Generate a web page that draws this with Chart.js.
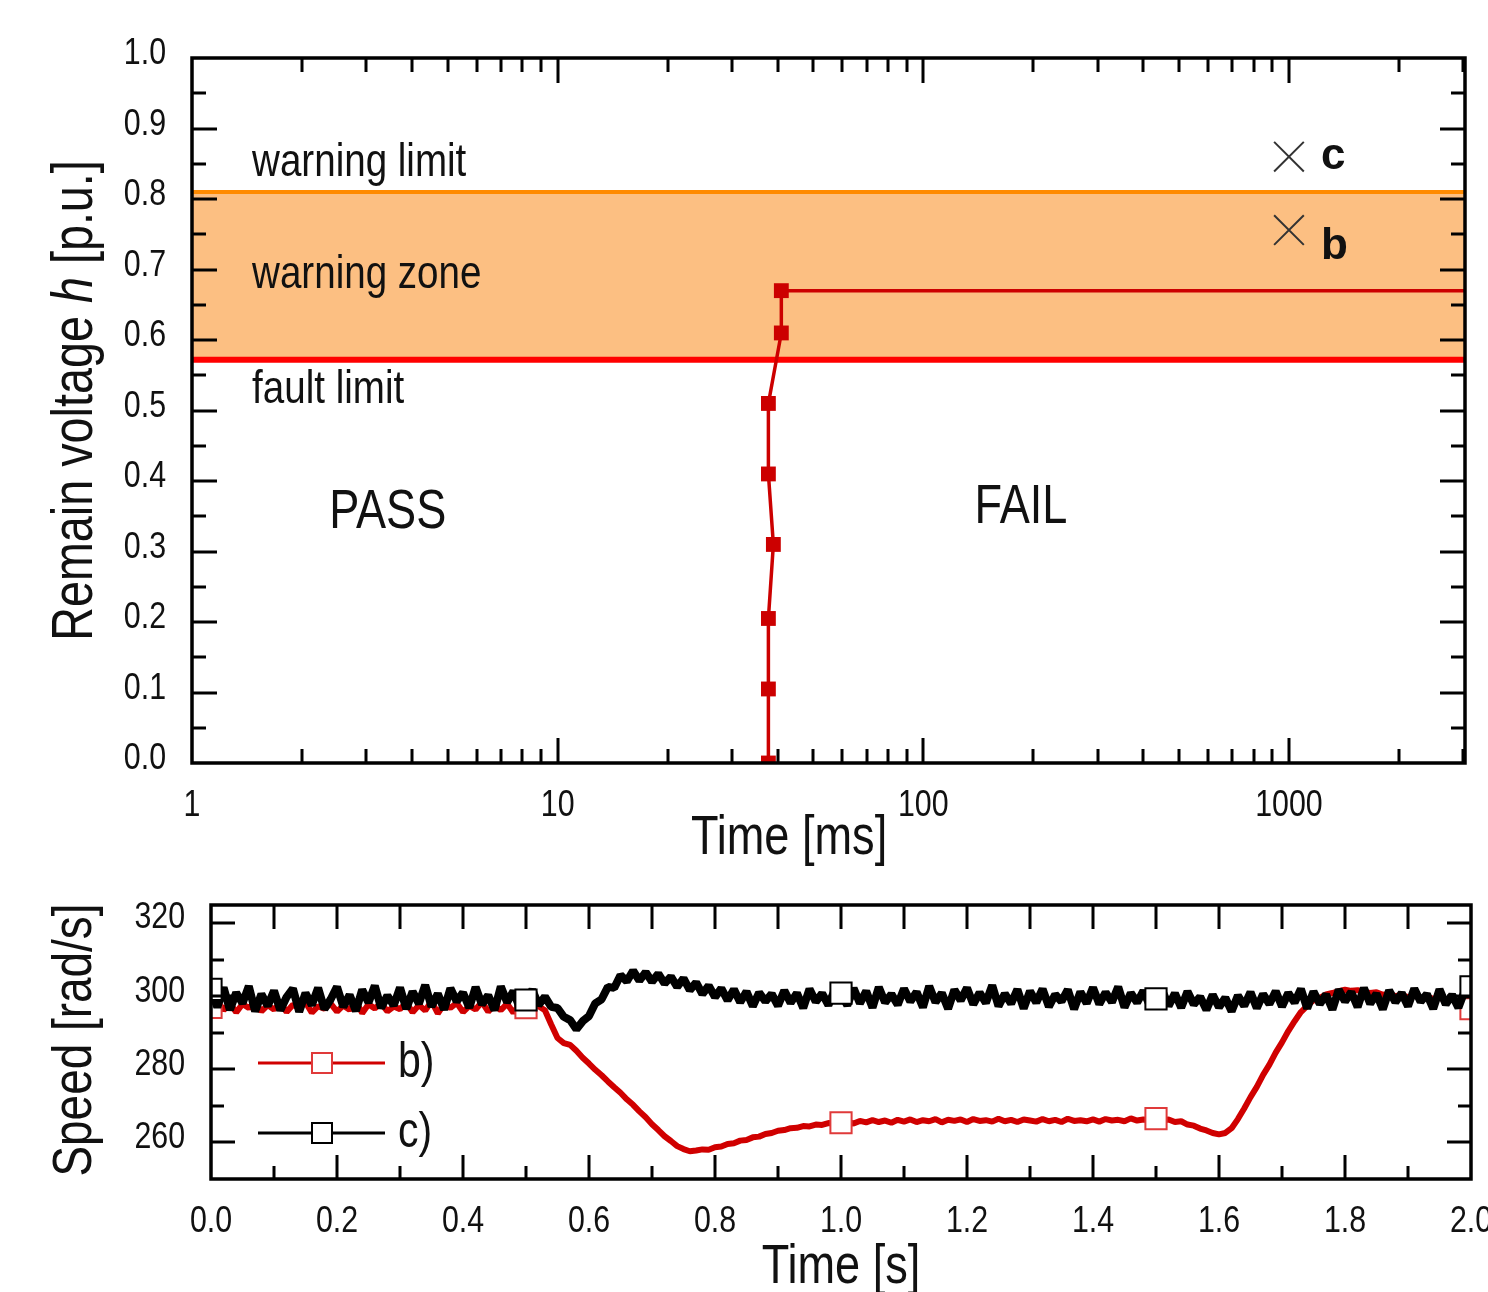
<!DOCTYPE html>
<html>
<head>
<meta charset="utf-8">
<script src="https://cdn.jsdelivr.net/npm/chart.js@4.4.1/dist/chart.umd.min.js"></script>
<style>
  html, body { margin: 0; padding: 0; background: #fff; }
  #wrap { position: relative; width: 1488px; height: 1292px; overflow: hidden; background: #fff; }
  #top { position: absolute; left: 0; top: 0; }
  #bottom { position: absolute; left: 0; top: 880px; }
</style>
</head>
<body>
<div id="wrap">
  <canvas id="top" width="1488" height="880"></canvas>
  <canvas id="bottom" width="1488" height="412"></canvas>
</div>
<script>
// ---- top panel: remaining voltage vs. hold time (log axis) ----
const holdTimeMs = [37.7, 37.7, 37.7, 38.9, 37.7, 37.7, 40.9, 40.9, 3030]
const holdVoltage = [0.0, 0.105, 0.205, 0.31, 0.41, 0.51, 0.61, 0.67, 0.67]
const limitTimeMs = [1, 3030]
const faultLimit = [0.572, 0.572]
const warningLimit = [0.81, 0.81]
const caseLabels = ['c', 'b']
const caseTimeMs = [1000, 1000]
const caseVoltage = [0.86, 0.756]
const decadeTicks = [1, 10, 100, 1000]
const logMinorTicks = [2, 3, 4, 5, 6, 7, 8, 9, 20, 30, 40, 50, 60, 70, 80, 90, 200, 300, 400, 500, 600, 700, 800, 900, 2000, 3000]
const voltTicks = [0, 0.1, 0.2, 0.3, 0.4, 0.5, 0.6, 0.7, 0.8, 0.9, 1]
const voltMajor = [0.1, 0.2, 0.3, 0.4, 0.5, 0.6, 0.7, 0.8, 0.9]
const voltMinor = [0.05, 0.15, 0.25, 0.35, 0.45, 0.55, 0.65, 0.75, 0.85, 0.95]

// ---- bottom panel: speed vs. time ----
const speedTime = [
  0, 0.01, 0.02, 0.03, 0.04, 0.05, 0.06, 0.07, 0.08, 0.09,
  0.1, 0.11, 0.12, 0.13, 0.14, 0.15, 0.16, 0.17, 0.18, 0.19,
  0.2, 0.21, 0.22, 0.23, 0.24, 0.25, 0.26, 0.27, 0.28, 0.29,
  0.3, 0.31, 0.32, 0.33, 0.34, 0.35, 0.36, 0.37, 0.38, 0.39,
  0.4, 0.41, 0.42, 0.43, 0.44, 0.45, 0.46, 0.47, 0.48, 0.49,
  0.5, 0.51, 0.52, 0.53, 0.54, 0.55, 0.56, 0.57, 0.58, 0.59,
  0.6, 0.61, 0.62, 0.63, 0.64, 0.65, 0.66, 0.67, 0.68, 0.69,
  0.7, 0.71, 0.72, 0.73, 0.74, 0.75, 0.76, 0.77, 0.78, 0.79,
  0.8, 0.81, 0.82, 0.83, 0.84, 0.85, 0.86, 0.87, 0.88, 0.89,
  0.9, 0.91, 0.92, 0.93, 0.94, 0.95, 0.96, 0.97, 0.98, 0.99,
  1, 1.01, 1.02, 1.03, 1.04, 1.05, 1.06, 1.07, 1.08, 1.09,
  1.1, 1.11, 1.12, 1.13, 1.14, 1.15, 1.16, 1.17, 1.18, 1.19,
  1.2, 1.21, 1.22, 1.23, 1.24, 1.25, 1.26, 1.27, 1.28, 1.29,
  1.3, 1.31, 1.32, 1.33, 1.34, 1.35, 1.36, 1.37, 1.38, 1.39,
  1.4, 1.41, 1.42, 1.43, 1.44, 1.45, 1.46, 1.47, 1.48, 1.49,
  1.5, 1.51, 1.52, 1.53, 1.54, 1.55, 1.56, 1.57, 1.58, 1.59,
  1.6, 1.61, 1.62, 1.63, 1.64, 1.65, 1.66, 1.67, 1.68, 1.69,
  1.7, 1.71, 1.72, 1.73, 1.74, 1.75, 1.76, 1.77, 1.78, 1.79,
  1.8, 1.81, 1.82, 1.83, 1.84, 1.85, 1.86, 1.87, 1.88, 1.89,
  1.9, 1.91, 1.92, 1.93, 1.94, 1.95, 1.96, 1.97, 1.98, 1.99,
  2
]
const speedB = [
  297.0, 298.8, 296.2, 298.1, 295.6, 297.9, 296.8, 298.5, 295.9, 297.6,
  296.4, 298.2, 295.7, 297.7, 296.9, 298.4, 295.5, 297.3, 296.6, 298.0,
  295.8, 297.5, 296.3, 298.6, 295.4, 297.8, 296.7, 298.1, 295.9, 297.2,
  296.5, 298.3, 295.6, 297.6, 296.1, 298.7, 295.3, 297.9, 296.8, 298.2,
  295.7, 297.4, 296.4, 298.5, 295.8, 297.7, 296.2, 298.0, 295.5, 297.8,
  296.9, 298.1, 297.3, 296.2, 292.3, 288.6, 287.2, 286.7, 285.1, 283.2,
  281.6, 279.9, 278.4, 276.7, 275.1, 273.6, 271.8, 270.3, 268.5, 266.9,
  265.0, 263.4, 261.7, 260.4, 259.0, 258.2, 257.6, 257.8, 258.1, 258.0,
  258.7, 258.9, 259.6, 259.8, 260.5, 260.7, 261.4, 261.6, 262.3, 262.6,
  263.2, 263.4, 263.9, 264.0, 264.5, 264.4, 264.9, 264.8, 265.3, 265.1,
  265.4, 265.6, 265.2, 265.9, 265.5, 266.1, 265.6, 266.0, 265.4, 266.2,
  265.7, 266.3, 265.6, 266.1, 265.8, 266.4, 265.5, 266.2, 265.9, 266.3,
  265.6, 266.4, 265.9, 266.1, 265.7, 266.5, 265.8, 266.2, 265.6, 266.3,
  266.0, 265.7, 266.4, 265.8, 266.2, 265.6, 266.5, 265.9, 266.1, 265.8,
  266.3, 265.7, 266.4, 266.0, 266.2, 265.8, 266.6, 266.0, 266.3, 266.1,
  266.5, 266.0, 266.3, 265.6, 265.8, 264.9, 264.6, 263.8, 263.3, 262.6,
  262.2, 262.6, 263.9, 266.4, 269.3, 272.4, 275.2, 278.5, 281.3, 284.6,
  287.4, 290.5, 293.2, 295.7, 297.4, 298.9, 299.6, 300.5, 300.9, 301.4,
  301.8, 301.5, 301.7, 301.2, 300.9, 301.1, 300.4, 300.7, 300.1, 300.3,
  299.8, 300.2, 299.5, 299.9, 299.3, 299.6, 298.9, 299.2, 298.5, 297.8,
  296.6
]
const speedC = [
  301.9, 297.0, 302.4, 296.3, 301.0, 298.1, 302.8, 295.9, 300.6, 297.4,
  301.5, 296.2, 299.8, 302.1, 295.8, 300.9, 297.6, 302.3, 296.5, 299.2,
  302.6, 297.1, 300.4, 296.0, 301.8, 298.3, 302.9, 296.8, 300.2, 297.5,
  302.4, 296.6, 301.3, 298.0, 303.1, 297.2, 300.7, 296.4, 302.2, 298.6,
  301.0, 296.9, 302.5, 297.8, 300.3, 296.2, 302.7, 298.4, 301.4, 296.8,
  299.0, 301.8, 297.6, 299.9, 297.1, 296.8, 294.4, 293.5, 291.0, 293.2,
  294.6, 298.1, 299.2, 302.6, 302.3, 305.8, 304.1, 307.0, 304.3, 306.6,
  304.0, 306.2, 303.5, 305.4, 302.6, 304.9, 301.7, 303.8, 300.6, 302.9,
  299.8, 302.2, 298.9, 301.9, 298.4, 301.3, 297.3, 301.0, 298.6, 300.7,
  297.4, 301.6, 298.2, 300.9, 296.8, 302.0, 298.5, 300.8, 297.6, 301.7,
  300.9, 297.5, 302.2, 298.1, 301.4, 296.9, 302.5, 298.3, 300.6, 297.7,
  302.1, 298.6, 301.2, 297.0, 302.8, 298.4, 300.9, 296.6, 301.8, 298.9,
  302.3, 297.8, 301.0, 298.2, 303.0, 297.3, 300.7, 298.0, 301.9, 296.7,
  301.4, 298.3, 302.0, 297.2, 300.5, 298.6, 301.8, 296.5, 301.2, 298.1,
  302.4, 297.9, 301.1, 298.4, 302.6, 297.0, 300.9, 298.3, 301.5, 297.5,
  299.3, 301.6, 297.4, 300.8, 296.9, 301.3, 297.8, 299.9, 296.3, 300.4,
  297.0, 299.6, 295.9, 300.2, 297.4, 301.1, 296.8, 300.6, 297.9, 301.4,
  297.2, 300.9, 298.3, 302.0, 296.7, 301.3, 297.9, 300.5, 296.4, 301.8,
  298.6, 301.2, 297.1, 302.3, 298.0, 300.7, 296.5, 301.6, 298.4, 300.9,
  297.3, 302.1, 298.5, 300.6, 296.6, 301.9, 297.8, 300.4, 296.9, 301.5,
  302.6
]
const markerTimes = [0, 0.5, 1, 1.5, 2]
const timeTicks = [0, 0.2, 0.4, 0.6, 0.8, 1, 1.2, 1.4, 1.6, 1.8, 2]
const speedTicks = [260, 280, 300, 320]
const speedMinor = [270, 290, 310]
const timeMajor = [0.2, 0.4, 0.6, 0.8, 1.0, 1.2, 1.4, 1.6, 1.8]
const timeMinor = [0.1, 0.3, 0.5, 0.7, 0.9, 1.1, 1.3, 1.5, 1.7, 1.9]

// no narrow font installed: draw Liberation Sans squeezed horizontally
const FONT = "'Liberation Sans', Arial, sans-serif"
const SQUEEZE = 0.82
const INK = '#111'
Chart.defaults.font.family = FONT
Chart.defaults.color = INK

function narrowText(ctx, text, x, y, align, baseline) {
  ctx.save()
  ctx.translate(x, y)
  ctx.scale(SQUEEZE, 1)
  ctx.textAlign = align
  ctx.textBaseline = baseline || 'middle'
  ctx.fillText(text, 0, 0)
  ctx.restore()
}

// frame + inward ticks on all four sides
const framePlugin = {
  id: 'frame',
  afterDatasetsDraw(chart, args, o) {
    const ctx = chart.ctx
    const a = chart.chartArea
    const xs = chart.scales.x
    const ys = chart.scales.y
    ctx.save()
    ctx.strokeStyle = '#000'
    ctx.lineWidth = 3
    ctx.beginPath()
    const seg = (x1, y1, x2, y2) => { ctx.moveTo(x1, y1); ctx.lineTo(x2, y2) }
    o.xMajor.forEach(v => {
      const p = Math.round(xs.getPixelForValue(v))
      seg(p, a.bottom, p, a.bottom - o.major)
      seg(p, a.top, p, a.top + o.major)
    })
    o.xMinor.forEach(v => {
      const p = Math.round(xs.getPixelForValue(v))
      if (p >= a.right) return
      seg(p, a.bottom, p, a.bottom - o.minor)
      seg(p, a.top, p, a.top + (o.topMinorLong ? o.major : o.minor))
    })
    o.yMajor.forEach(v => {
      const p = Math.round(ys.getPixelForValue(v))
      seg(a.left, p, a.left + o.major, p)
      seg(a.right, p, a.right - o.major, p)
    })
    o.yMinor.forEach(v => {
      const p = Math.round(ys.getPixelForValue(v))
      seg(a.left, p, a.left + o.minor, p)
      seg(a.right, p, a.right - o.minor, p)
    })
    ctx.stroke()
    ctx.lineWidth = 3.5
    ctx.strokeRect(a.left, a.top, a.right - a.left, a.bottom - a.top)
    ctx.restore()
  }
}

// tick labels from the scales' own ticks, drawn in the squeezed face
const tickLabelPlugin = {
  id: 'tickLabels',
  afterDraw(chart, args, o) {
    const ctx = chart.ctx
    const a = chart.chartArea
    const xs = chart.scales.x
    const ys = chart.scales.y
    ctx.save()
    ctx.fillStyle = INK
    ctx.font = o.size + 'px ' + FONT
    xs.ticks.forEach((t, i) => narrowText(ctx, o.xFormat(t.value), xs.getPixelForTick(i), a.bottom + o.xDy, 'center'))
    ys.ticks.forEach((t, i) => narrowText(ctx, o.yFormat(t.value), a.left - o.yPad, ys.getPixelForTick(i) + o.yDy, 'right'))
    ctx.restore()
  }
}

function drawParts(ctx, x, y, parts, size, rotate) {
  ctx.save()
  ctx.translate(x, y)
  if (rotate) ctx.rotate(-Math.PI / 2)
  ctx.scale(SQUEEZE, 1)
  ctx.textBaseline = 'middle'
  ctx.textAlign = 'left'
  ctx.fillStyle = INK
  let total = 0
  parts.forEach(p => {
    ctx.font = (p.italic ? 'italic ' : '') + size + 'px ' + FONT
    p.w = ctx.measureText(p.text).width
    total += p.w
  })
  let cx = -total / 2
  parts.forEach(p => {
    ctx.font = (p.italic ? 'italic ' : '') + size + 'px ' + FONT
    ctx.fillText(p.text, cx, 0)
    cx += p.w
  })
  ctx.restore()
}

// axis titles (y title may contain italic parts)
const titlesPlugin = {
  id: 'titles',
  afterDraw(chart, args, o) {
    const a = chart.chartArea
    const ctx = chart.ctx
    drawParts(ctx, a.left + (a.right - a.left) * o.xFrac, a.bottom + o.xDy, [{ text: o.xText }], o.xSize, false)
    drawParts(ctx, o.yX, (a.top + a.bottom) / 2 + o.yDy, o.yParts, o.ySize, true)
  }
}

// free text placed at data coordinates
const notesPlugin = {
  id: 'notes',
  afterDraw(chart, args, o) {
    const ctx = chart.ctx
    const xs = chart.scales.x
    const ys = chart.scales.y
    ctx.save()
    ctx.fillStyle = INK
    o.items.forEach(n => {
      ctx.font = (n.weight || 'normal') + ' ' + n.size + 'px ' + FONT
      const px = xs.getPixelForValue(n.x) + (n.dx || 0)
      const py = ys.getPixelForValue(n.y) + (n.dy || 0)
      if (n.plain) {
        ctx.textAlign = n.align
        ctx.textBaseline = 'middle'
        ctx.fillText(n.text, px, py)
      } else {
        narrowText(ctx, n.text, px, py, n.align)
      }
    })
    ctx.restore()
  }
}

// legend drawn inside the plot area
const innerLegend = {
  id: 'innerLegend',
  afterDraw(chart, args, o) {
    const ctx = chart.ctx
    const a = chart.chartArea
    ctx.save()
    o.rows.forEach(r => {
      const ds = chart.data.datasets[r.index]
      const y = a.top + r.dy
      const xm = a.left + o.markAt
      ctx.strokeStyle = ds.borderColor
      ctx.lineWidth = 3
      ctx.beginPath()
      ctx.moveTo(a.left + o.lineFrom, y)
      ctx.lineTo(a.left + o.lineTo, y)
      ctx.stroke()
      ctx.fillStyle = '#fff'
      ctx.strokeStyle = ds.pointBorderColor
      ctx.lineWidth = 2
      ctx.fillRect(xm - 10, y - 10, 20, 20)
      ctx.strokeRect(xm - 10, y - 10, 20, 20)
      ctx.fillStyle = INK
      ctx.font = o.size + 'px ' + FONT
      narrowText(ctx, ds.label, a.left + o.textAt, y, 'left')
    })
    ctx.restore()
  }
}

function fixBox(w, h) {
  return scale => {
    if (w !== null) scale.width = w
    if (h !== null) scale.height = h
    scale.paddingLeft = 0
    scale.paddingRight = 0
    scale.paddingTop = 0
    scale.paddingBottom = 0
  }
}

const hiddenAxis = {
  grid: { display: false, drawTicks: false },
  border: { display: false },
  ticks: { display: false, autoSkip: false, maxRotation: 0 }
}

// ---------- top chart ----------
new Chart(document.getElementById('top'), {
  type: 'line',
  data: {
    datasets: [
      {
        label: 'warning limit',
        data: limitTimeMs.map((t, i) => ({ x: t, y: warningLimit[i] })),
        borderColor: '#FF8A00',
        borderWidth: 4,
        pointRadius: 0,
        fill: 1,
        backgroundColor: '#FCBF82',
        order: 3
      },
      {
        label: 'fault limit',
        data: limitTimeMs.map((t, i) => ({ x: t, y: faultLimit[i] })),
        borderColor: '#FF0000',
        borderWidth: 6,
        pointRadius: 0,
        fill: false,
        order: 2
      },
      {
        label: 'hold',
        data: holdTimeMs.map((t, i) => ({ x: t, y: holdVoltage[i] })),
        borderColor: '#CC0000',
        backgroundColor: '#CC0000',
        borderWidth: 3.5,
        pointStyle: 'rect',
        pointRadius: c => (c.dataIndex < holdTimeMs.length - 1 ? 10.5 : 0),
        pointBorderWidth: 0,
        fill: false,
        order: 1
      },
      {
        label: 'cases',
        data: caseTimeMs.map((t, i) => ({ x: t, y: caseVoltage[i] })),
        showLine: false,
        pointStyle: 'crossRot',
        pointRadius: 21,
        borderColor: '#333',
        pointBorderWidth: 2,
        fill: false,
        order: 0
      }
    ]
  },
  options: {
    responsive: false,
    animation: false,
    layout: { padding: { left: 0, top: 58, right: 22, bottom: 0 } },
    scales: {
      x: {
        ...hiddenAxis,
        type: 'logarithmic',
        min: 1,
        max: 3030,
        afterBuildTicks: s => { s.ticks = decadeTicks.map(v => ({ value: v })) },
        afterFit: fixBox(null, 117)
      },
      y: {
        ...hiddenAxis,
        min: 0,
        max: 1,
        afterBuildTicks: s => { s.ticks = voltTicks.map(v => ({ value: v })) },
        afterFit: fixBox(192, null)
      }
    },
    plugins: {
      legend: { display: false },
      tooltip: { enabled: false },
      filler: { drawTime: 'beforeDatasetsDraw' },
      frame: { xMajor: decadeTicks.slice(1), xMinor: logMinorTicks, yMajor: voltMajor, yMinor: voltMinor, major: 25, minor: 14 },
      tickLabels: { size: 37, xDy: 43, yPad: 26, yDy: -4, xFormat: v => String(v), yFormat: v => v.toFixed(1) },
      titles: {
        xText: 'Time [ms]', xFrac: 0.469, xDy: 76, xSize: 55,
        yX: 76, yDy: -10,
        yParts: [{ text: 'Remain voltage ' }, { text: 'h', italic: true }, { text: ' [p.u.]' }],
        ySize: 57
      },
      notes: {
        items: [
          { text: 'warning limit', x: 1.46, y: 0.851, align: 'left', size: 47 },
          { text: 'warning zone', x: 1.46, y: 0.692, align: 'left', size: 47 },
          { text: 'fault limit', x: 1.46, y: 0.529, align: 'left', size: 47 },
          { text: 'PASS', x: 3.43, y: 0.355, align: 'center', size: 55 },
          { text: 'FAIL', x: 185, y: 0.362, align: 'center', size: 55 },
          { text: caseLabels[0], x: caseTimeMs[0], y: caseVoltage[0], dx: 32, dy: 0, align: 'left', size: 44, weight: 'bold', plain: true },
          { text: caseLabels[1], x: caseTimeMs[1], y: caseVoltage[1], dx: 32, dy: 17, align: 'left', size: 44, weight: 'bold', plain: true }
        ]
      }
    }
  },
  plugins: [framePlugin, tickLabelPlugin, titlesPlugin, notesPlugin]
})

// ---------- bottom chart ----------
const markerRadius = c => (markerTimes.includes(speedTime[c.dataIndex]) ? 15 : 0)

new Chart(document.getElementById('bottom'), {
  type: 'line',
  data: {
    datasets: [
      {
        label: 'b)',
        data: speedTime.map((t, i) => ({ x: t, y: speedB[i] })),
        borderColor: '#D00000',
        borderWidth: 6,
        borderJoinStyle: 'bevel',
        pointStyle: 'rect',
        pointRadius: markerRadius,
        pointBackgroundColor: '#fff',
        pointBorderColor: '#E03A3A',
        pointBorderWidth: 2,
        fill: false,
        order: 2
      },
      {
        label: 'c)',
        data: speedTime.map((t, i) => ({ x: t, y: speedC[i] })),
        borderColor: '#000',
        borderWidth: 8,
        borderJoinStyle: 'bevel',
        pointStyle: 'rect',
        pointRadius: markerRadius,
        pointBackgroundColor: '#fff',
        pointBorderColor: '#000',
        pointBorderWidth: 2,
        fill: false,
        order: 1
      }
    ]
  },
  options: {
    responsive: false,
    animation: false,
    layout: { padding: { left: 0, top: 25, right: 13, bottom: 0 } },
    scales: {
      x: {
        ...hiddenAxis,
        type: 'linear',
        min: 0,
        max: 2,
        afterBuildTicks: s => { s.ticks = timeTicks.map(v => ({ value: v })) },
        afterFit: fixBox(null, 113)
      },
      y: {
        ...hiddenAxis,
        min: 250,
        max: 325,
        afterBuildTicks: s => { s.ticks = speedTicks.map(v => ({ value: v })) },
        afterFit: fixBox(211, null)
      }
    },
    plugins: {
      legend: { display: false },
      tooltip: { enabled: false },
      frame: { xMajor: timeMajor, xMinor: timeMinor, yMajor: speedTicks, yMinor: speedMinor, major: 24, minor: 13, topMinorLong: true },
      tickLabels: { size: 37, xDy: 43, yPad: 26, yDy: -5, xFormat: v => v.toFixed(1), yFormat: v => String(v) },
      titles: {
        xText: 'Time [s]', xFrac: 0.5, xDy: 89, xSize: 55,
        yX: 76, yDy: -2,
        yParts: [{ text: 'Speed [rad/s]' }],
        ySize: 56
      },
      innerLegend: {
        rows: [{ index: 0, dy: 158 }, { index: 1, dy: 228 }],
        lineFrom: 47, lineTo: 174, markAt: 111, textAt: 187, size: 50
      }
    }
  },
  plugins: [framePlugin, tickLabelPlugin, titlesPlugin, innerLegend]
})
</script>
</body>
</html>
